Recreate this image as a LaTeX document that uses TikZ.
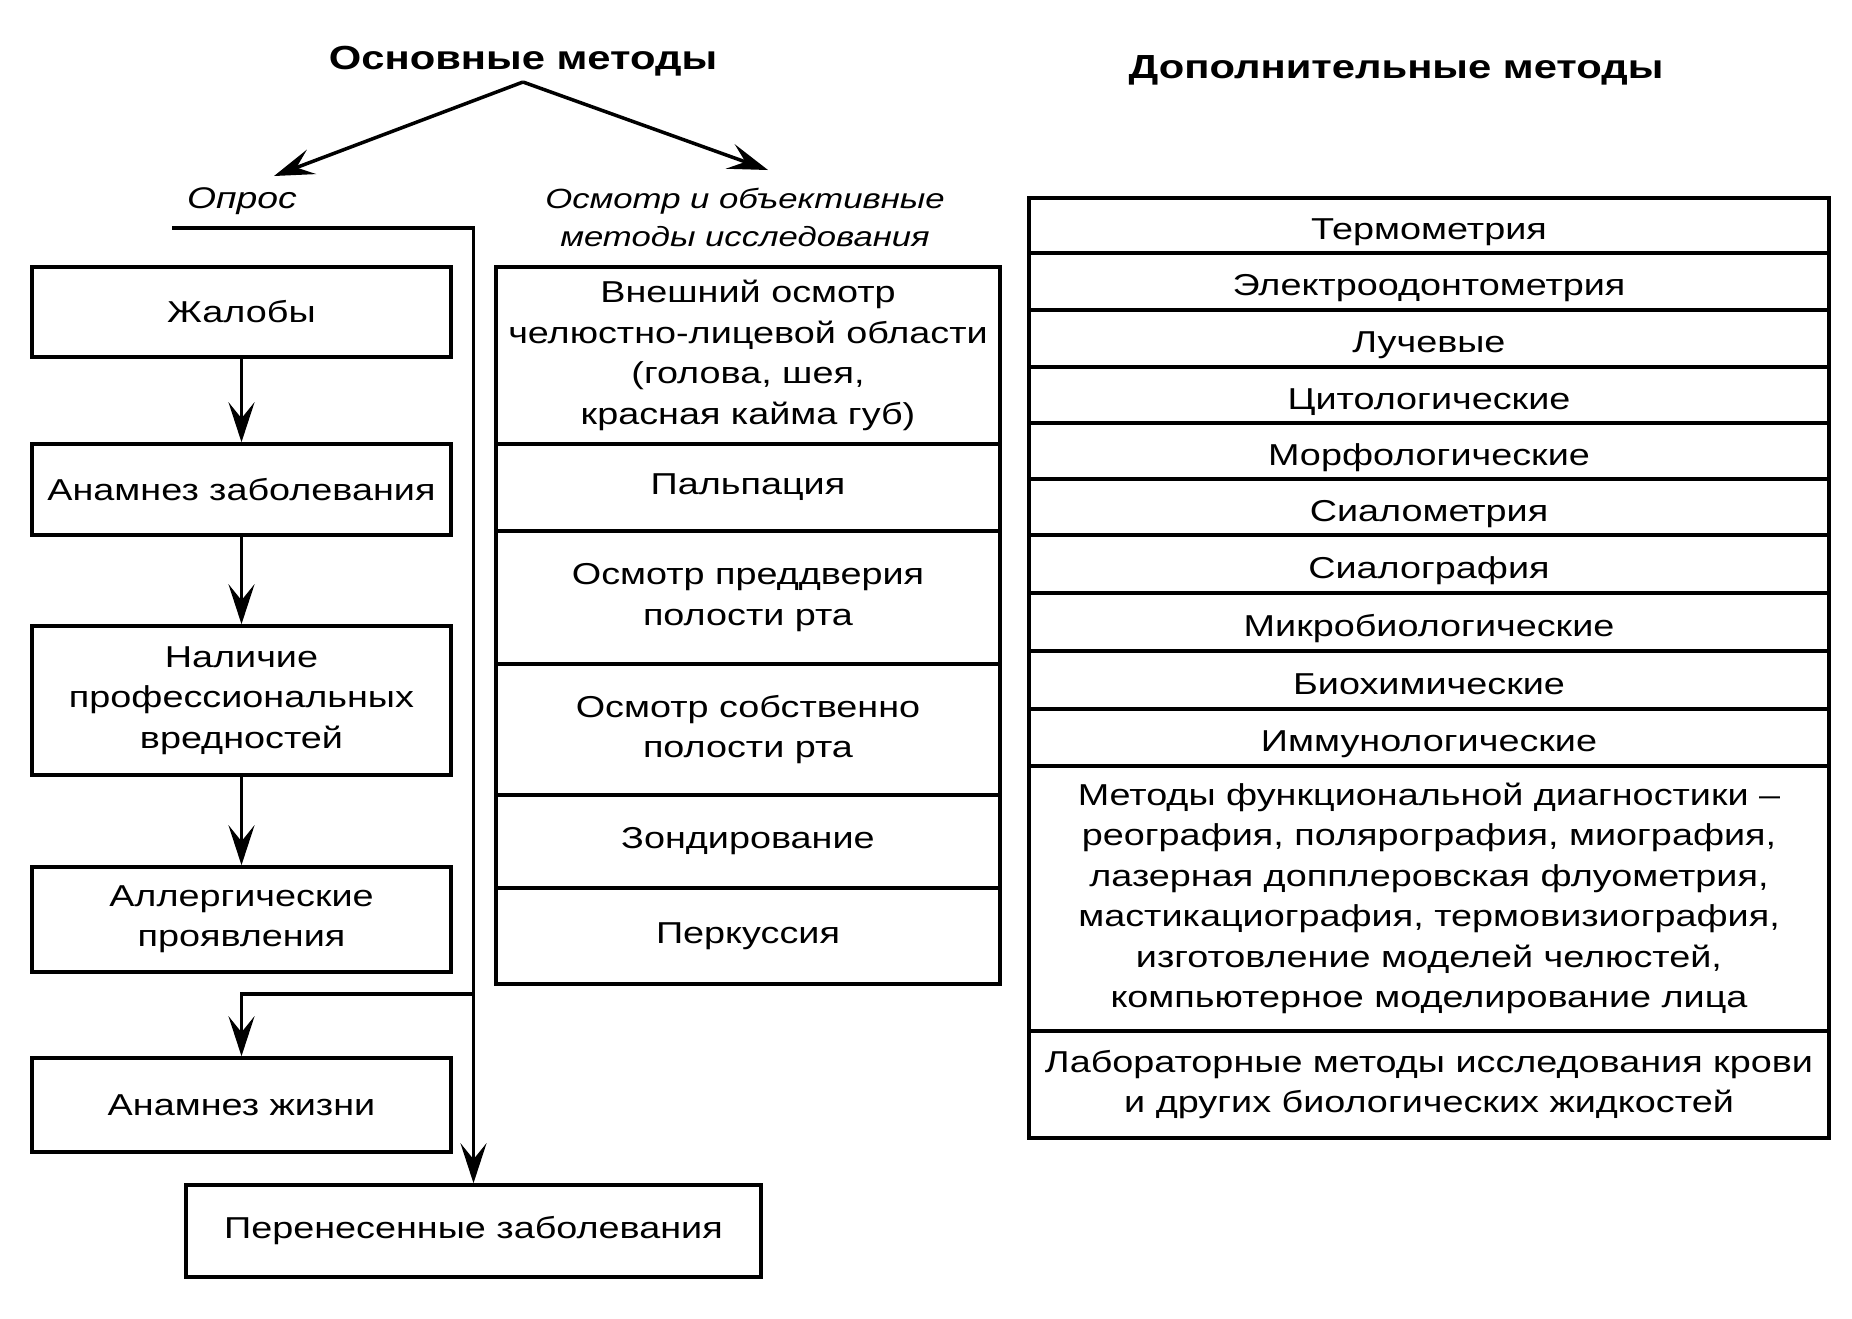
\documentclass[tikz,border=0pt]{standalone}
\usepackage{fontspec}
\setmainfont{Liberation Sans}[FakeStretch=1.25]
\usetikzlibrary{arrows.meta}
\tikzset{>={Stealth[length=4mm,width=2.6mm,inset=1.6mm]}}
\tikzset{box/.style={draw,line width=1pt,align=center,inner sep=0pt,font=\fontsize{8.6}{11.5}\selectfont}}
\tikzset{leftbox/.style={box,minimum width=4.19cm}}
\tikzset{midbox/.style={box,minimum width=5.04cm}}
\tikzset{rightbox/.style={box,minimum width=8cm}}
\tikzset{rowbox/.style={rightbox,text height=2.8mm,text depth=0pt}}
\tikzset{title/.style={font=\bfseries\fontsize{9.5}{11}\selectfont,inner sep=0.5mm}}
\tikzset{branch/.style={font=\itshape\fontsize{8.5}{11}\selectfont,align=center,inner sep=0pt}}
\begin{document}
\begin{tikzpicture}
    \useasboundingbox (0,0) rectangle (18.52,-13.18);
    %titles
    \node[title,anchor=south] (osn) at (5.23,-0.82) {Основные методы};
    \node[title] (dop) at (13.96,-0.70) {Дополнительные методы};
    %branch labels
    \node[branch] (opros) at (2.42,-2.01) {Опрос};
    \node[branch,font=\itshape\fontsize{7.9}{10.8}\selectfont] (osmotr) at (7.45,-2.17) {Осмотр и объективные\\методы исследования};
    \coordinate (tipL) at (2.74,-1.76);
    \coordinate (tipR) at (7.68,-1.70);
    \draw[->,line width=1pt] (osn.south) -- (tipL);
    \draw[->,line width=1pt] (osn.south) -- (tipR);
    %left boxes
    \node[leftbox,minimum height=0.90cm] (zh) at (2.415,-3.12) {Жалобы};
    \node[leftbox,minimum height=0.91cm] (az) at (2.415,-4.895) {Анамнез заболевания};
    \node[leftbox,minimum height=1.49cm] (nv) at (2.415,-7.005) {Наличие\\профессиональных\\вредностей};
    \node[leftbox,minimum height=1.05cm] (ap) at (2.415,-9.195) {Аллергические\\проявления};
    \node[leftbox,minimum height=0.94cm] (aj) at (2.415,-11.05) {Анамнез жизни};
    \node[box,minimum width=5.75cm,minimum height=0.92cm] (pz) at (4.735,-12.31) {Перенесенные заболевания};
    %left arrows
    \draw[->,line width=1pt] (zh) -- (az);
    \draw[->,line width=1pt] (az) -- (nv);
    \draw[->,line width=1pt] (nv) -- (ap);
    \coordinate (oprosL) at (1.72,-2.28);
    \coordinate (br) at (4.73,-9.94);
    \draw[->,line width=1pt] (oprosL) -| (pz.north);
    \draw[->,line width=1pt] (br) -| (aj.north);
    %middle column
    \node[midbox,minimum height=1.77cm] (m1) at (7.48,-3.555) {Внешний осмотр\\челюстно-лицевой области\\(голова, шея,\\красная кайма губ)};
    \node[midbox,minimum height=0.87cm] (m2) at (7.48,-4.875) {Пальпация};
    \node[midbox,minimum height=1.33cm] (m3) at (7.48,-5.975) {Осмотр преддверия\\полости рта};
    \node[midbox,minimum height=1.31cm] (m4) at (7.48,-7.295) {Осмотр собственно\\полости рта};
    \node[midbox,minimum height=0.93cm] (m5) at (7.48,-8.415) {Зондирование};
    \node[midbox,minimum height=0.96cm] (m6) at (7.48,-9.36) {Перкуссия};
    %right column
    \node[rowbox,minimum height=0.55cm] (r1) at (14.29,-2.255) {Термометрия};
    \node[rowbox,minimum height=0.57cm] (r2) at (14.29,-2.815) {Электроодонтометрия};
    \node[rowbox,minimum height=0.57cm] (r3) at (14.29,-3.385) {Лучевые};
    \node[rowbox,minimum height=0.56cm] (r4) at (14.29,-3.95) {Цитологические};
    \node[rowbox,minimum height=0.56cm] (r5) at (14.29,-4.51) {Морфологические};
    \node[rowbox,minimum height=0.56cm] (r6) at (14.29,-5.07) {Сиалометрия};
    \node[rowbox,minimum height=0.58cm] (r7) at (14.29,-5.64) {Сиалография};
    \node[rowbox,minimum height=0.58cm] (r8) at (14.29,-6.22) {Микробиологические};
    \node[rowbox,minimum height=0.58cm] (r9) at (14.29,-6.80) {Биохимические};
    \node[rowbox,minimum height=0.57cm] (r10) at (14.29,-7.375) {Иммунологические};
    \node[rightbox,minimum height=2.65cm] (r11) at (14.29,-8.985) {Методы функциональной диагностики –\\реография, полярография, миография,\\лазерная допплеровская флуометрия,\\мастикациография, термовизиография,\\изготовление моделей челюстей,\\компьютерное моделирование лица};
    \node[rightbox,minimum height=1.07cm] (r12) at (14.29,-10.845) {Лабораторные методы исследования крови\\и других биологических жидкостей};
\end{tikzpicture}
\end{document}
